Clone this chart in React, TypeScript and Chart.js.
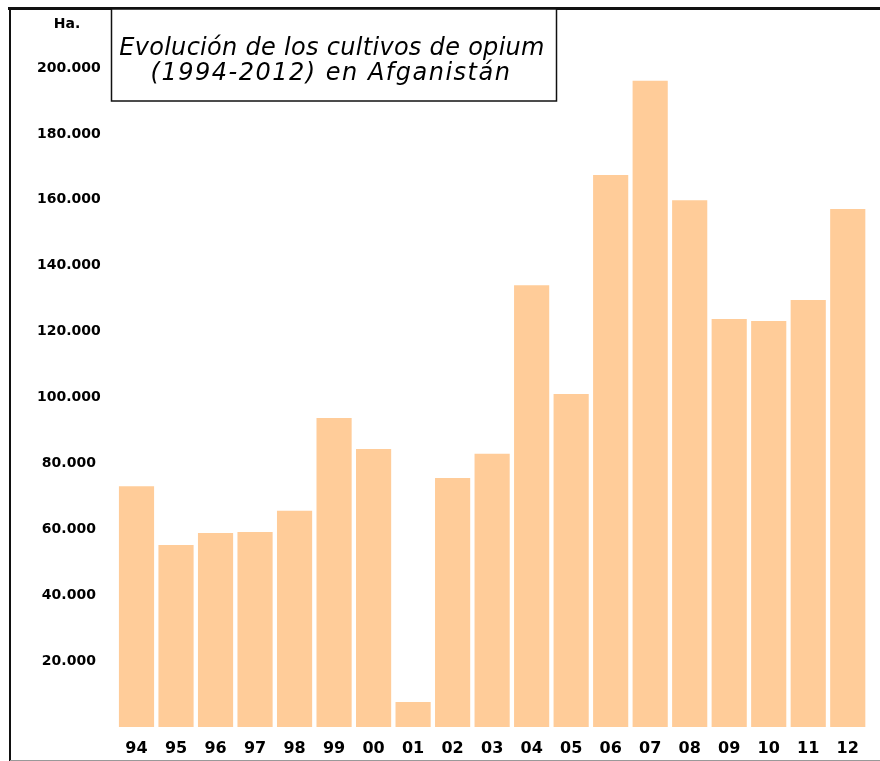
import React, { useEffect, useRef } from "react";
import { Chart, registerables } from "chart.js";

Chart.register(...registerables);

const categories = ["94", "95", "96", "97", "98", "99", "00", "01", "02", "03", "04", "05", "06", "07", "08", "09", "10", "11", "12"];
const hectares = [73100, 55200, 58900, 59200, 65600, 93800, 84400, 7600, 75600, 82900, 134100, 101100, 167500, 196100, 159900, 123800, 123200, 129600, 157200];
const titleLines = ["Evolución de los cultivos de opium", "(1994-2012) en Afganistán"];
const unitLabel = "Ha.";
const yMax = 200000;
const yStep = 20000;

function fmt(v: number): string {
  return String(v).replace(/\B(?=(\d{3})+(?!\d))/g, ".");
}

const framePlugin = {
  id: "frame",
  afterDraw(chart: any) {
    const ctx = chart.ctx as any;
    const w = chart.width;
    const h = chart.height;
    ctx.save();
    ctx.strokeStyle = "#111";
    ctx.lineWidth = 3;
    ctx.beginPath();
    ctx.moveTo(8, 8.5);
    ctx.lineTo(w, 8.5);
    ctx.stroke();
    ctx.lineWidth = 2;
    ctx.beginPath();
    ctx.moveTo(10, 8);
    ctx.lineTo(10, h);
    ctx.stroke();
    ctx.strokeStyle = "#999";
    ctx.lineWidth = 1;
    ctx.beginPath();
    ctx.moveTo(10, 760.5);
    ctx.lineTo(w, 760.5);
    ctx.stroke();
    ctx.fillStyle = "#000";
    ctx.font = "bold 14px 'DejaVu Sans'";
    ctx.textAlign = "center";
    ctx.textBaseline = "middle";
    ctx.fillText(unitLabel, 67, 24);
    ctx.fillStyle = "#fff";
    ctx.fillRect(111.5, 9, 445, 92);
    ctx.strokeStyle = "#111";
    ctx.lineWidth = 1.5;
    ctx.strokeRect(111.5, 9, 445, 92);
    ctx.fillStyle = "#000";
    ctx.font = "oblique 24px 'DejaVu Sans'";
    ctx.textBaseline = "alphabetic";
    ctx.letterSpacing = "0.3px";
    ctx.fillText(titleLines[0], 332, 55);
    ctx.letterSpacing = "1.5px";
    ctx.fillText(titleLines[1], 331, 80);
    ctx.restore();
  },
};

export default function App() {
  const ref = useRef<HTMLCanvasElement>(null);
  useEffect(() => {
    if (!ref.current) return;
    const chart = new Chart(ref.current, {
      type: "bar",
      data: {
        labels: categories,
        datasets: [
          {
            data: hectares,
            backgroundColor: "#FFCC99",
            borderWidth: 0,
            categoryPercentage: 1,
            barPercentage: 0.89,
          },
        ],
      },
      options: {
        animation: false,
        responsive: false,
        maintainAspectRatio: false,
        layout: { padding: { top: 68, right: 12.5, bottom: 0, left: 0 } },
        plugins: { legend: { display: false }, tooltip: { enabled: false }, title: { display: false } },
        scales: {
          x: {
            grid: { display: false, drawTicks: false },
            border: { display: false },
            ticks: {
              color: "#000",
              font: { family: "'DejaVu Sans'", size: 16, weight: "bold" },
              padding: 12,
              maxRotation: 0,
              autoSkip: false,
            },
            afterFit(scale: any) {
              scale.height = 34;
            },
          },
          y: {
            min: 0,
            max: yMax,
            grid: { display: false, drawTicks: false },
            border: { display: false },
            ticks: {
              stepSize: yStep,
              color: "#000",
              font: { family: "'DejaVu Sans'", size: 14, weight: "bold" },
              crossAlign: "center",
              padding: 16,
              callback: (v: any) => (Number(v) === 0 ? "" : fmt(Number(v))),
            },
            afterFit(scale: any) {
              scale.width = 116.75;
            },
          },
        },
      },
      plugins: [framePlugin],
    } as any);
    return () => chart.destroy();
  }, []);
  return (
    <div style={{ position: "fixed", left: 0, top: 0, width: 880, height: 761, background: "#fff" }}>
      <canvas ref={ref} width={880} height={761} style={{ display: "block", width: 880, height: 761 }} />
    </div>
  );
}
